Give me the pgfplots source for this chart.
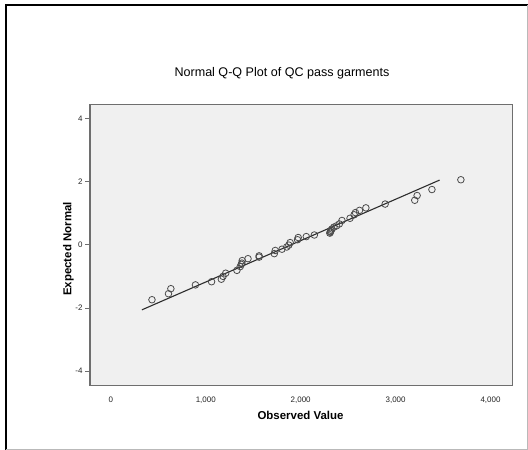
\documentclass[border=0pt]{standalone}
\usepackage{pgfplots}
\pgfplotsset{compat=1.18}
\usepackage{fontspec}
\setmainfont{Liberation Sans}
\definecolor{plotbg}{RGB}{240,240,240}
\definecolor{axgray}{RGB}{110,110,110}
\definecolor{markgray}{RGB}{75,75,75}
\definecolor{linegray}{RGB}{45,45,45}
\begin{document}
\begin{tikzpicture}[x=1bp,y=1bp]
\path[use as bounding box] (0,0) rectangle (528,450);
\fill[white] (0,0) rectangle (528,450);
\draw[black, line width=2bp] (6,0) -- (6,445) -- (528,445);
\draw[gray!55, line width=1bp] (6,0.5) -- (528,0.5);
\draw[gray!55, line width=1bp] (527,0) -- (527,445);
\begin{axis}[
  at={(90bp,64.7bp)}, anchor=south west,
  width=422.3bp, height=281bp, scale only axis,
  xmin=-220, xmax=4230, ymin=-4.45, ymax=4.45,
  axis background/.style={fill=plotbg},
  axis line style={draw=axgray, line width=1.2bp},
  xtick={0,1000,2000,3000,4000},
  ytick={-4,-2,0,2,4},
  xtick pos=bottom, ytick pos=left,
  tick align=outside,
  xtick style={draw=none},
  ytick style={draw=axgray, line width=0.8bp},
  major tick length=5bp,
  /pgf/number format/assume math mode=true,
  /pgf/number format/1000 sep={,},
  tick label style={font=\fontsize{8}{9}\selectfont, text=black!85},
  xticklabel style={yshift=-3bp},
  yticklabel style={xshift=1bp},
  clip=false,
]
\addplot[color=linegray, line width=1.1bp] coordinates {(327,-2.06) (3464,2.05)};
\addplot[only marks, mark=o, mark size=3.3bp, mark options={draw=markgray, line width=0.8bp}] coordinates {
(433,-1.74) (607,-1.55) (632,-1.39) (891,-1.27) (1061,-1.17) (1164,-1.09)
(1182,-1.00) (1210,-0.90) (1328,-0.81) (1363,-0.69) (1374,-0.62) (1380,-0.58)
(1384,-0.50) (1445,-0.44) (1562,-0.39) (1562,-0.35) (1722,-0.28) (1732,-0.18)
(1803,-0.14) (1853,-0.07) (1875,-0.01) (1889,0.07) (1967,0.16) (1974,0.23)
(2059,0.26) (2144,0.31) (2307,0.37) (2312,0.40) (2315,0.42) (2320,0.46)
(2329,0.50) (2350,0.56) (2378,0.60) (2407,0.66) (2435,0.77) (2520,0.84)
(2563,0.95) (2577,1.02) (2620,1.09) (2687,1.17) (2890,1.29) (3202,1.41)
(3227,1.56) (3383,1.75) (3688,2.06)
};
\end{axis}
\node[font=\fontsize{12.6}{14}\selectfont] at (282,376.7) {Normal Q-Q Plot of QC pass garments};
\node[font=\fontsize{11.5}{13}\selectfont\bfseries] at (300.5,34.7) {Observed Value};
\node[font=\fontsize{11.5}{13}\selectfont\bfseries, rotate=90] at (68.3,201) {Expected Normal};
\end{tikzpicture}
\end{document}
